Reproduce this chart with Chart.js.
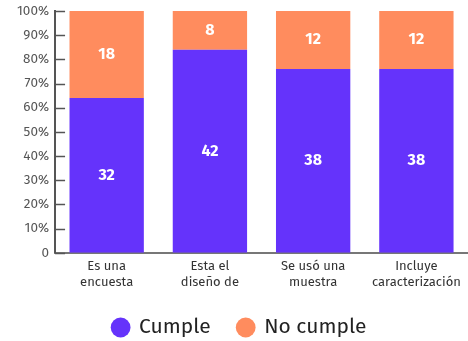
<!DOCTYPE html>
<html>
<head>
<meta charset="utf-8">
<script src="https://cdn.jsdelivr.net/npm/chart.js@4"></script>
<style>
  html, body { margin: 0; padding: 0; background: #fff; }
  #wrap { width: 468px; height: 341px; }
</style>
</head>
<body>
<div id="wrap"><canvas id="chart"></canvas></div>
<script>
const categories = [['Es una', 'encuesta'], ['Esta el', 'diseño de'], ['Se usó una', 'muestra'], ['Incluye', 'caracterización']];
const cumple = [32, 42, 38, 38];
const noCumple = [18, 8, 12, 12];
const yTicks = [0, 10, 20, 30, 40, 50, 60, 70, 80, 90, 100];

const purple = '#6533fb';
const orange = '#ff8c5e';
const fontFamily = "'Fira Sans', 'Lato', 'Open Sans', sans-serif";

// counts -> share of each column
const totals = cumple.map((v, i) => v + noCumple[i]);
const pct = arr => arr.map((v, i) => v / totals[i] * 100);

// white count labels in the middle of each segment
const segmentLabels = {
  id: 'segmentLabels',
  afterDatasetsDraw(chart) {
    const ctx = chart.ctx;
    ctx.save();
    ctx.fillStyle = '#fff';
    ctx.font = 'bold 16px ' + fontFamily;
    ctx.textAlign = 'center';
    ctx.textBaseline = 'middle';
    chart.data.datasets.forEach((ds, di) => {
      chart.getDatasetMeta(di).data.forEach((bar, i) => {
        const mid = (bar.y + bar.base) / 2;
        ctx.fillText(String(ds.counts[i]), bar.x, mid);
      });
    });
    ctx.restore();
  }
};

// short tick marks drawn inward from the y axis
const innerTicks = {
  id: 'innerTicks',
  beforeDatasetsDraw(chart) {
    const ctx = chart.ctx;
    const y = chart.scales.y;
    const left = chart.chartArea.left;
    ctx.save();
    ctx.strokeStyle = '#555';
    ctx.lineWidth = 1.5;
    yTicks.forEach(t => {
      const py = Math.round(y.getPixelForValue(t)) + 0.5;
      ctx.beginPath();
      ctx.moveTo(left, py);
      ctx.lineTo(left + 10, py);
      ctx.stroke();
    });
    ctx.restore();
  }
};

// legend uses wide item padding for spacing; pull it up a bit afterwards
const legendShift = {
  id: 'legendShift',
  afterLayout(chart) {
    chart.legend.top -= 6;
    chart.legend.bottom -= 6;
  }
};

new Chart(document.getElementById('chart'), {
  type: 'bar',
  data: {
    labels: categories,
    datasets: [
      { label: 'Cumple', data: pct(cumple), counts: cumple, backgroundColor: purple },
      { label: 'No cumple', data: pct(noCumple), counts: noCumple, backgroundColor: orange }
    ]
  },
  options: {
    responsive: true,
    maintainAspectRatio: false,
    animation: false,
    layout: { padding: { top: 11, right: 0, left: 11, bottom: -13 } },
    datasets: {
      bar: { barPercentage: 0.72, categoryPercentage: 1.0 }
    },
    scales: {
      x: {
        stacked: true,
        grid: { display: false, drawTicks: false },
        border: { color: '#777', width: 2 },
        ticks: {
          color: '#333',
          font: { family: fontFamily, size: 13 },
          padding: 6,
          maxRotation: 0,
          autoSkip: false
        }
      },
      y: {
        stacked: true,
        min: 0,
        max: 100,
        grid: { display: false, drawTicks: false },
        border: { color: '#555', width: 2 },
        afterBuildTicks(scale) {
          scale.ticks = yTicks.map(v => ({ value: v }));
        },
        afterFit(scale) {
          // top label may overhang; the layout padding handles it
          scale.paddingTop = 0;
        },
        ticks: {
          color: '#555',
          font: { family: fontFamily, size: 13.5 },
          padding: 6,
          callback: v => v === 0 ? '0' : v + '%'
        }
      }
    },
    plugins: {
      tooltip: { enabled: false },
      legend: {
        position: 'bottom',
        labels: {
          usePointStyle: true,
          pointStyle: 'circle',
          boxWidth: 16,
          boxHeight: 14,
          padding: 27,
          color: '#222',
          font: { family: fontFamily, size: 21 }
        }
      }
    }
  },
  plugins: [segmentLabels, innerTicks, legendShift]
});
</script>
</body>
</html>
